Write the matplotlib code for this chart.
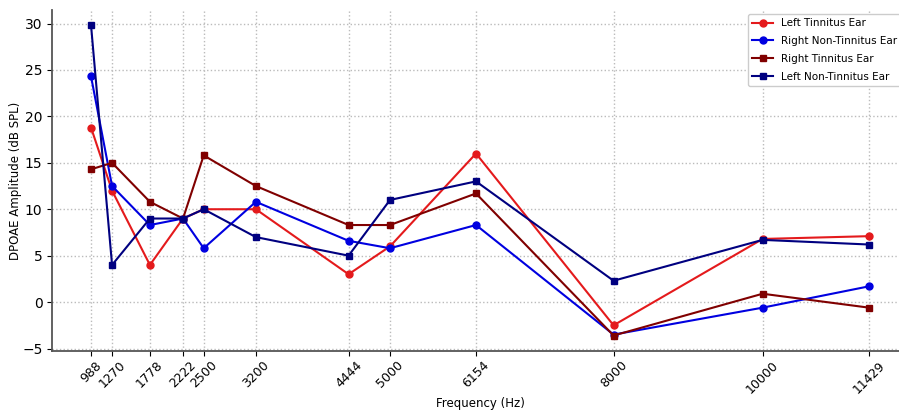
import matplotlib
matplotlib.use('Agg')
import matplotlib.pyplot as plt

freqs = [988, 1270, 1778, 2222, 2500, 3200, 4444, 5000, 6154, 8000, 10000, 11429]
left_tinnitus = [18.8, 12.0, 4.0, 9.0, 10.0, 10.0, 3.0, 6.0, 16.0, -2.5, 6.8, 7.1]
right_non_tinnitus = [24.3, 12.5, 8.3, 9.0, 5.8, 10.8, 6.6, 5.8, 8.3, -3.5, -0.6, 1.7]
right_tinnitus = [14.3, 15.0, 10.8, 9.0, 15.8, 12.5, 8.3, 8.3, 11.7, -3.6, 0.9, -0.6]
left_non_tinnitus = [29.8, 4.0, 9.0, 9.0, 10.0, 7.0, 5.0, 11.0, 13.0, 2.3, 6.7, 6.2]

fig = plt.figure(figsize=(8.99, 4.12), dpi=100)
ax = fig.add_axes([0.058, 0.148, 0.952, 0.828])

ax.plot(freqs, left_tinnitus, color='#e41a1c', marker='o', ms=5, lw=1.5, label='Left Tinnitus Ear')
ax.plot(freqs, right_non_tinnitus, color='#0000e0', marker='o', ms=5, lw=1.5, label='Right Non-Tinnitus Ear')
ax.plot(freqs, right_tinnitus, color='#800000', marker='s', ms=5, lw=1.5, label='Right Tinnitus Ear')
ax.plot(freqs, left_non_tinnitus, color='#000080', marker='s', ms=5, lw=1.5, label='Left Non-Tinnitus Ear')

ax.set_xticks(freqs)
ax.set_xticklabels([str(f) for f in freqs], rotation=45, fontsize=9)
ax.tick_params(axis='x', pad=2)
ax.tick_params(axis='y', labelsize=10)
ax.set_yticks([-5, 0, 5, 10, 15, 20, 25, 30])
ax.grid(True, linestyle=':', color='#bbbbbb', linewidth=1)
for s in ['top', 'right']:
    ax.spines[s].set_visible(False)
for s in ['left', 'bottom']:
    ax.spines[s].set_color('#555555')
    ax.spines[s].set_linewidth(1.3)

ax.set_xlabel('Frequency (Hz)', fontsize=8.5, labelpad=1)
ax.set_ylabel('DPOAE Amplitude (dB SPL)', fontsize=8.5, labelpad=0)
ax.legend(loc='upper left', bbox_to_anchor=(0.813, 0.988), borderaxespad=0,
          fontsize=7.5, labelspacing=0.75, framealpha=1, edgecolor='#cccccc')

fig.savefig('out.png', dpi=100)
